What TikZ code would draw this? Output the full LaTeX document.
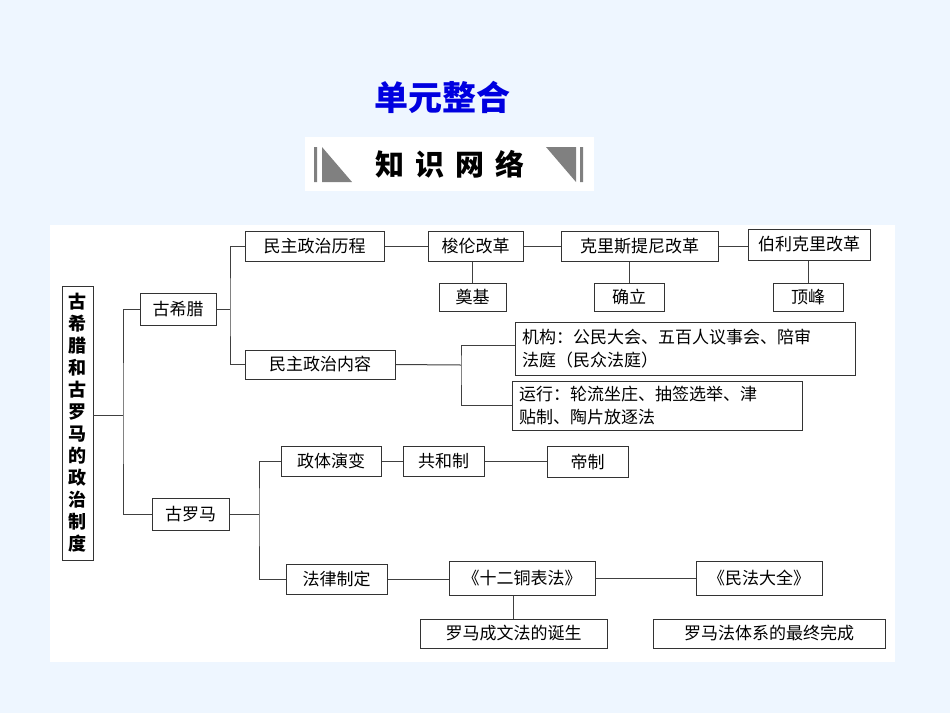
\documentclass[tikz,border=0pt]{standalone}
\usepackage{fontspec}
\setmainfont{Noto Sans CJK SC}
\begin{document}
\begin{tikzpicture}[x=1pt,y=-1pt,
  bx/.style={draw=black!80,line width=1pt,fill=white,inner sep=0pt,font=\fontsize{17}{20}\selectfont},
  ln/.style={draw=black!75,line width=1pt}]
\useasboundingbox (0,0) rectangle (950,713);
\fill[fill={rgb,255:red,238;green,246;blue,255}] (0,0) rectangle (950,713);
\fill[white] (50,225) rectangle (895,662);
% title
\node (title) at (442,97) {\fontsize{34}{36}\selectfont\bfseries\color[HTML]{0000E0}单元整合};
\fill[white] (305,137) rectangle (594,191);
\fill[gray] (314,147) rectangle (317,182) (580,147) rectangle (583,182);
\fill[gray] (322,147) -- (322,182) -- (352,182) -- cycle;
\fill[gray] (576,147) -- (546,147) -- (576,182) -- cycle;
\node (kn) at (450,164) {\fontsize{29}{30}\selectfont\bfseries 知\hspace{11pt}识\hspace{11pt}网\hspace{11pt}络};
% nodes
\def\B#1#2#3#4#5#6{\node[bx,minimum width=#4-#2,minimum height=#5-#3] (#1) at ({(#2+#4)/2},{(#3+#5)/2}) {#6};}
\B{root}{62}{286}{93}{560}{\bfseries\parbox{18pt}{\centering\fontsize{18}{22}\selectfont 古\\希\\腊\\和\\古\\罗\\马\\的\\政\\治\\制\\度}}
\B{gxl}{140}{293}{216}{325}{古希腊}
\B{glm}{152}{498}{229}{530}{古罗马}
\B{lc}{245}{231}{384}{261}{民主政治历程}
\B{nr}{245}{350}{395}{379}{民主政治内容}
\B{sl}{428}{231}{523}{261}{梭伦改革}
\B{kl}{561}{231}{718}{261}{克里斯提尼改革}
\B{bl}{748}{229}{870}{260}{伯利克里改革}
\B{dj}{439}{283}{506}{311}{奠基}
\B{ql}{594}{283}{664}{311}{确立}
\B{df}{773}{283}{843}{311}{顶峰}
\B{jg}{515}{322}{855}{375}{\parbox{326pt}{\fontsize{17}{23}\selectfont 机构：公民大会、五百人议事会、陪审\\法庭（民众法庭）}}
\B{yx}{512}{381}{802}{430}{\parbox{276pt}{\fontsize{17}{23}\selectfont 运行：轮流坐庄、抽签选举、津\\贴制、陶片放逐法}}
\B{zt}{281}{446}{381}{476}{政体演变}
\B{gh}{403}{446}{484}{476}{共和制}
\B{dz}{547}{446}{628}{477}{帝制}
\B{fl}{286}{564}{387}{594}{法律制定}
\B{se}{449}{561}{595}{595}{《十二铜表法》}
\B{mf}{696}{561}{822}{595}{《民法大全》}
\B{cw}{420}{619}{607}{648}{罗马成文法的诞生}
\B{wc}{653}{619}{885}{648}{罗马法体系的最终完成}
% connectors
\coordinate (r1) at (93,415);
\coordinate (t1) at (123,415);
\draw[ln] (r1) -- (t1);
\draw[ln] (gxl.west) -| (t1) |- (glm.west);
\coordinate (t2) at (230,309);
\draw[ln] (gxl.east) -- (t2);
\draw[ln] (lc.west) -| (t2) |- (nr.west);
\draw[ln] (lc) -- (sl);
\draw[ln] (sl) -- (kl);
\draw[ln] (kl.east) -- (bl.west |- kl.east);
\draw[ln] (sl.south -| dj) -- (dj);
\draw[ln] (kl.south -| ql) -- (ql);
\draw[ln] (bl.south -| df) -- (df);
\coordinate (t3) at (461,365);
\draw[ln] (nr.east) -- (t3);
\draw[ln] (jg.west |- 0,345) -| (t3) |- (yx.west |- 0,405);
\coordinate (t4) at (259,514);
\draw[ln] (glm.east) -- (t4);
\draw[ln] (zt.west) -| (t4) |- (fl.west);
\draw[ln] (zt) -- (gh);
\draw[ln] (gh.east) -- (dz.west |- gh.east);
\draw[ln] (fl.east) -- (se.west |- fl.east);
\draw[ln] (se) -- (mf);
\draw[ln] (se.south -| cw) -- (cw);
\end{tikzpicture}
\end{document}
